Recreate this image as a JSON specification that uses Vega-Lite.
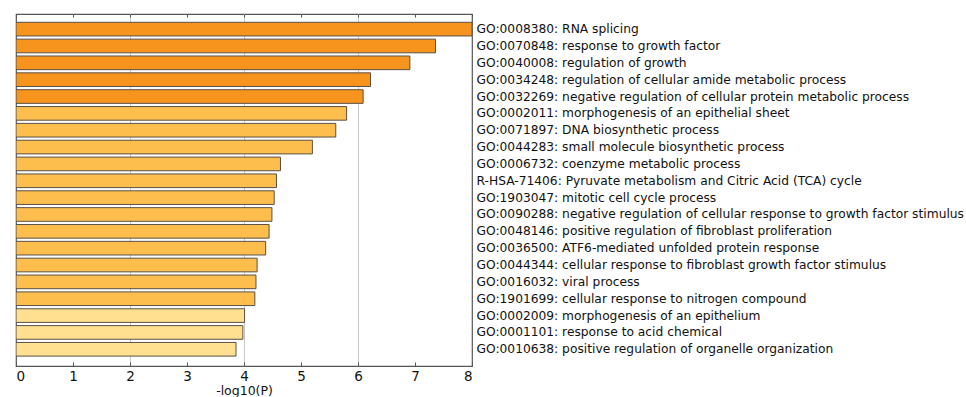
{
  "$schema": "https://vega.github.io/schema/vega-lite/v6.json",
  "width": 456,
  "height": 352,
  "autosize": "none",
  "padding": {"left": 16, "top": 14, "right": 494, "bottom": 31},
  "background": "white",
  "config": {
    "font": "DejaVu Sans",
    "view": {"stroke": "#555555", "strokeWidth": 1.2}
  },
  "data": {
    "values": [
      {"term": "GO:0008380: RNA splicing", "logp": 8.0, "level": "high"},
      {"term": "GO:0070848: response to growth factor", "logp": 7.36, "level": "high"},
      {"term": "GO:0040008: regulation of growth", "logp": 6.91, "level": "high"},
      {"term": "GO:0034248: regulation of cellular amide metabolic process", "logp": 6.22, "level": "high"},
      {"term": "GO:0032269: negative regulation of cellular protein metabolic process", "logp": 6.09, "level": "high"},
      {"term": "GO:0002011: morphogenesis of an epithelial sheet", "logp": 5.8, "level": "mid"},
      {"term": "GO:0071897: DNA biosynthetic process", "logp": 5.61, "level": "mid"},
      {"term": "GO:0044283: small molecule biosynthetic process", "logp": 5.2, "level": "mid"},
      {"term": "GO:0006732: coenzyme metabolic process", "logp": 4.64, "level": "mid"},
      {"term": "R-HSA-71406: Pyruvate metabolism and Citric Acid (TCA) cycle", "logp": 4.57, "level": "mid"},
      {"term": "GO:1903047: mitotic cell cycle process", "logp": 4.53, "level": "mid"},
      {"term": "GO:0090288: negative regulation of cellular response to growth factor stimulus", "logp": 4.49, "level": "mid"},
      {"term": "GO:0048146: positive regulation of fibroblast proliferation", "logp": 4.44, "level": "mid"},
      {"term": "GO:0036500: ATF6-mediated unfolded protein response", "logp": 4.38, "level": "mid"},
      {"term": "GO:0044344: cellular response to fibroblast growth factor stimulus", "logp": 4.23, "level": "mid"},
      {"term": "GO:0016032: viral process", "logp": 4.21, "level": "mid"},
      {"term": "GO:1901699: cellular response to nitrogen compound", "logp": 4.19, "level": "mid"},
      {"term": "GO:0002009: morphogenesis of an epithelium", "logp": 4.01, "level": "low"},
      {"term": "GO:0001101: response to acid chemical", "logp": 3.98, "level": "low"},
      {"term": "GO:0010638: positive regulation of organelle organization", "logp": 3.86, "level": "low"}
    ]
  },
  "layer": [
    {
      "mark": {"type": "bar", "stroke": "#5a5045", "strokeWidth": 1, "clip": true},
      "encoding": {
        "y": {
          "field": "term", "type": "nominal", "sort": null,
          "scale": {"paddingInner": 0.19, "paddingOuter": 0.54, "align": 0.456},
          "axis": {
            "orient": "right", "title": null, "ticks": false, "domain": false,
            "labelPadding": 4, "labelFontSize": 12.25, "labelColor": "#111111",
            "labelLimit": 0, "labelAlign": "left"
          }
        },
        "x": {
          "field": "logp", "type": "quantitative",
          "scale": {"domain": [0, 8], "nice": false},
          "axis": {
            "orient": "bottom", "values": [0, 1, 2, 3, 4, 5, 6, 7, 8],
            "title": "-log10(P)", "titleFontSize": 12.5, "titleFontWeight": "normal",
            "titleColor": "#111111", "titlePadding": 2,
            "labelFontSize": 13.5, "labelColor": "#111111", "labelPadding": 7,
            "tickSize": -4, "tickColor": "#555555", "domain": false,
            "grid": true, "gridColor": "#c8c8c8",
            "gridOpacity": {"condition": {"test": "datum.value === 2 || datum.value === 4 || datum.value === 6", "value": 1}, "value": 0}
          }
        },
        "color": {
          "field": "level", "type": "nominal", "legend": null,
          "scale": {"domain": ["high", "mid", "low"], "range": ["#f7941e", "#fdbe4e", "#fee090"]}
        }
      }
    },
    {
      "mark": {"type": "rule", "opacity": 0},
      "encoding": {
        "x": {
          "field": "logp", "type": "quantitative",
          "axis": {
            "orient": "top", "values": [0, 1, 2, 3, 4, 5, 6, 7, 8],
            "labels": false, "title": null, "domain": false, "grid": false,
            "tickSize": -3, "tickColor": "#555555"
          }
        }
      }
    }
  ],
  "resolve": {"axis": {"x": "independent"}}
}
